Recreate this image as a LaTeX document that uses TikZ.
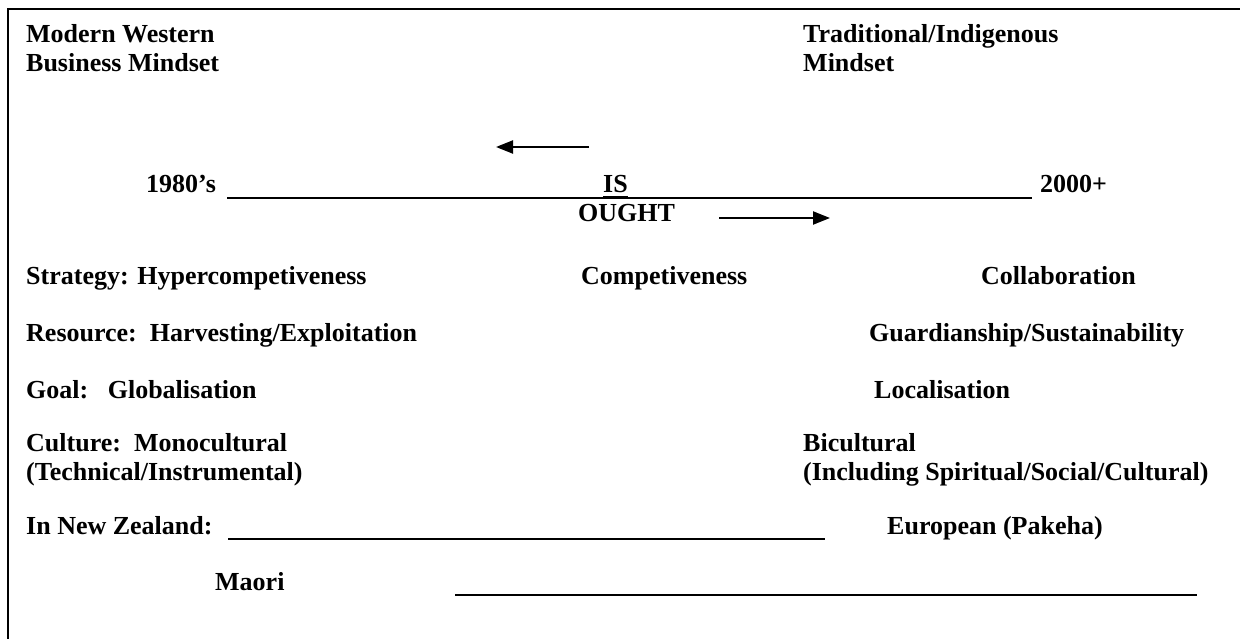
\documentclass[tikz,border=0pt]{standalone}
\usepackage{fontspec}
\setmainfont{Liberation Serif}
\usetikzlibrary{arrows.meta}
\begin{document}
\begin{tikzpicture}[x=1pt,y=-1pt,
  txt/.style={anchor=base west,inner sep=0pt,font=\fontsize{26}{29}\selectfont\bfseries},
  rule/.style={line width=2pt},
  arr/.style={line width=2.2pt,-{Triangle[length=17pt,width=13pt]}},
  frame/.style={line width=2pt}]
\useasboundingbox (0,0) rectangle (1240,639);
\draw[frame] (8,639) -- (8,9) -- (1240,9);
% headings
\node[txt] (mw1) at (26,43) {Modern Western};
\node[txt] (mw2) at (26,72) {Business Mindset};
\node[txt] (ti1) at (803,43) {Traditional/Indigenous};
\node[txt] (ti2) at (803,72) {Mindset};
% time line
\coordinate (la1) at (589,147);
\coordinate (la2) at (496,147);
\draw[arr] (la1) -- (la2);
\node[txt] (y80) at (146,193) {1980’s};
\node[txt] (is) at (603,193) {IS};
\node[txt] (y20) at (1040,193) {2000+};
\coordinate (l1) at (227,198);
\coordinate (l2) at (1032,198);
\draw[rule] (l1) -- (l2);
\draw[line width=3pt] (is.base west |- l1) -- (is.base east |- l1);
\node[txt] (ought) at (578,222) {OUGHT};
\coordinate (ra1) at (719,218);
\coordinate (ra2) at (830,218);
\draw[arr] (ra1) -- (ra2);
% rows
\node[txt] (st) at (26,284) {Strategy: Hypercompetiveness};
\node[txt] (co) at (581,284) {Competiveness};
\node[txt] (cb) at (981,284) {Collaboration};
\node[txt] (re) at (26,341) {Resource:\ \ Harvesting/Exploitation};
\node[txt] (gu) at (869,341) {Guardianship/Sustainability};
\node[txt] (go) at (26,398) {Goal:\ \ \ Globalisation};
\node[txt] (lo) at (874,398) {Localisation};
\node[txt] (cu1) at (26,451) {Culture:\ \ Monocultural};
\node[txt] (cu2) at (26,480) {(Technical/Instrumental)};
\node[txt] (bi1) at (803,451) {Bicultural};
\node[txt] (bi2) at (803,480) {(Including Spiritual/Social/Cultural)};
\node[txt] (nz) at (26,534) {In New Zealand:};
\coordinate (n1) at (228,539);
\coordinate (n2) at (825,539);
\draw[rule] (n1) -- (n2);
\node[txt] (eu) at (887,534) {European (Pakeha)};
\node[txt] (ma) at (215,590) {Maori};
\coordinate (m1) at (455,595);
\coordinate (m2) at (1197,595);
\draw[rule] (m1) -- (m2);
\end{tikzpicture}
\end{document}
